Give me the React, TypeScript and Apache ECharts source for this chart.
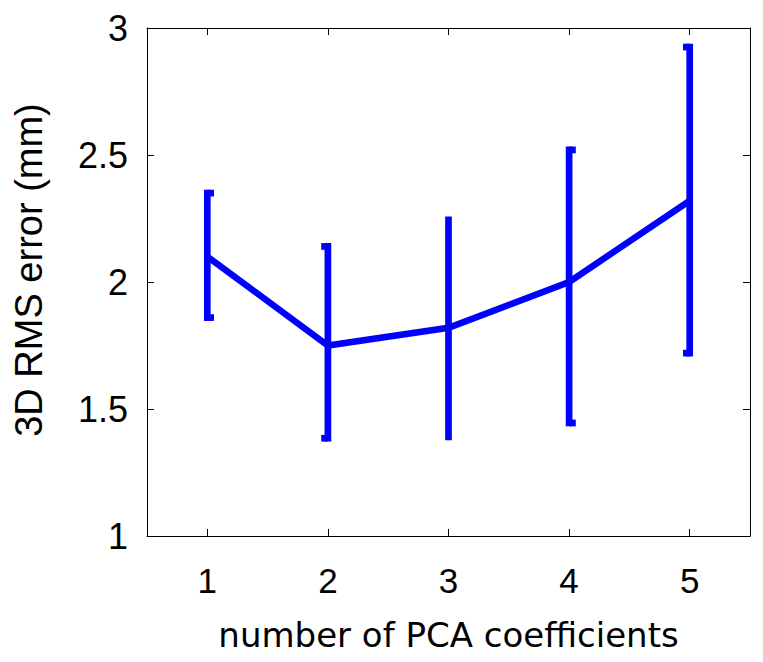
import React, { useEffect, useRef } from "react";
import * as echarts from "echarts";

const categories = ["1", "2", "3", "4", "5"];
const meanError = [2.1, 1.75, 1.82, 2.0, 2.32];
const lowerBound = [1.86, 1.385, 1.39, 1.445, 1.72];
const upperBound = [2.35, 2.14, 2.245, 2.52, 2.925];
const yTickLabels = ["1", "1.5", "2", "2.5", "3"];

// style: side on which each error-bar cap is drawn (1 right, -1 left, 0 none)
const CAP_SIDE = [1, -1, 0, 1, -1];
const BLUE = "#0000ff";
const TICK_FONT = "'Liberation Sans', Arial, Helvetica, sans-serif";

export default function App() {
  const ref = useRef<HTMLDivElement>(null);

  useEffect(() => {
    document.body.style.margin = "0";
    const chart = echarts.init(ref.current!, null, { renderer: "svg" });
    const errData = categories.map((_, i) => [i, lowerBound[i], upperBound[i]]);
    const axisLine = { show: true, onZero: false, lineStyle: { color: "#000", width: 1 } };
    const tick = { show: true, inside: true, length: 7, lineStyle: { color: "#000", width: 1 } };

    chart.setOption({
      animation: false,
      grid: { left: 147, right: 13, top: 28, bottom: 126, containLabel: false },
      xAxis: [
        {
          type: "category",
          data: categories,
          boundaryGap: true,
          position: "bottom",
          axisLine,
          axisTick: { ...tick, alignWithLabel: true },
          axisLabel: { margin: 27, fontSize: 35, color: "#000", fontFamily: TICK_FONT },
          splitLine: { show: false },
          name: "number of PCA coefficients",
          nameLocation: "middle",
          nameGap: 82,
          nameTextStyle: { fontSize: 34, color: "#000", fontFamily: "'DejaVu Sans', sans-serif" },
        },
        {
          type: "category",
          data: categories,
          boundaryGap: true,
          position: "top",
          axisLine,
          axisTick: { ...tick, alignWithLabel: true },
          axisLabel: { show: false },
          splitLine: { show: false },
        },
      ],
      yAxis: [
        {
          type: "value",
          min: 1,
          max: 3,
          interval: 0.5,
          position: "left",
          axisLine,
          axisTick: tick,
          axisLabel: {
            margin: 19,
            fontSize: 36,
            color: "#000",
            fontFamily: TICK_FONT,
            formatter: (v: number) => yTickLabels[Math.round((v - 1) / 0.5)] ?? String(v),
          },
          splitLine: { show: false },
          name: "3D RMS error (mm)",
          nameLocation: "middle",
          nameGap: 99,
          nameTextStyle: {
            fontSize: 38,
            color: "#000",
            fontFamily: TICK_FONT,
            padding: [0, 0, 0, 24],
          },
        },
        {
          type: "value",
          min: 1,
          max: 3,
          interval: 0.5,
          position: "right",
          axisLine,
          axisTick: tick,
          axisLabel: { show: false },
          splitLine: { show: false },
        },
      ],
      series: [
        {
          type: "custom",
          xAxisIndex: 0,
          yAxisIndex: 0,
          data: errData,
          encode: { x: 0, y: [1, 2] },
          renderItem: (params: any, api: any) => {
            const i = api.value(0);
            const lo = api.coord([i, api.value(1)]);
            const hi = api.coord([i, api.value(2)]);
            const side = CAP_SIDE[i] || 0;
            const w = 6.7;
            const children: any[] = [
              {
                type: "line",
                shape: { x1: lo[0], y1: lo[1], x2: hi[0], y2: hi[1] },
                style: { stroke: BLUE, lineWidth: w, lineCap: "square" },
              },
            ];
            if (side !== 0) {
              [lo, hi].forEach((p) => {
                children.push({
                  type: "line",
                  shape: { x1: p[0], y1: p[1], x2: p[0] + side * 6.7, y2: p[1] },
                  style: { stroke: BLUE, lineWidth: w, lineCap: "butt" },
                });
              });
            }
            return { type: "group", children };
          },
          z: 2,
        },
        {
          type: "line",
          xAxisIndex: 0,
          yAxisIndex: 0,
          data: meanError,
          symbol: "none",
          lineStyle: { color: BLUE, width: 6.5, join: "miter" },
          z: 3,
        },
      ],
    });
    return () => chart.dispose();
  }, []);

  return <div ref={ref} style={{ width: 763, height: 662 }} />;
}
